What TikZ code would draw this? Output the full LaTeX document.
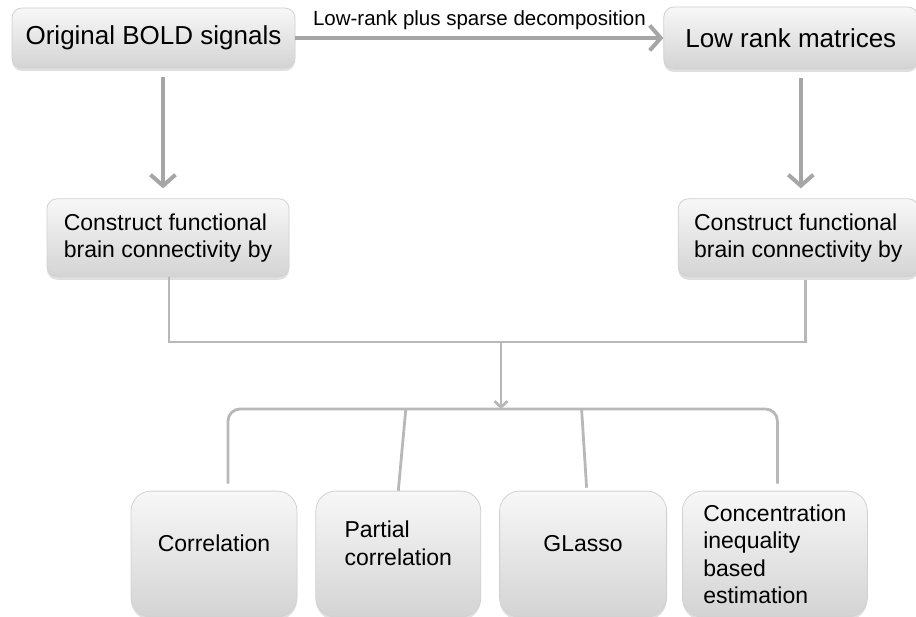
\documentclass[tikz,border=0pt]{standalone}
\usepackage{fontspec}
\setmainfont{Liberation Sans}
\usetikzlibrary{positioning, shadows, arrows.meta, calc}
\newcommand{\lowpad}{\rule[-22pt]{0pt}{22pt}}

\begin{document}
\begin{tikzpicture}[x=1pt, y=-1pt,
        box/.style = {draw=black!18, line width=0.8pt, rounded corners=10pt, top color=black!3, bottom color=black!17, drop shadow={shadow xshift=0pt, shadow yshift=-3pt, opacity=0.25}, inner sep=0pt},
        topbox/.style = {box, minimum height=60pt, font=\fontsize{26}{30}\selectfont},
        midbox/.style = {box, minimum height=78pt, align=left, font=\fontsize{23}{27}\selectfont},
        botbox/.style = {box, rounded corners=20pt, minimum width=166pt, minimum height=126pt, align=left, font=\fontsize{23}{27.5}\selectfont},
        bigarrow/.style = {draw=black!35, line width=4pt, -{Straight Barb[length=11pt,width=25pt]}},
        thinline/.style = {draw=black!28, line width=2.8pt},
        thinarrow/.style = {thinline, -{Straight Barb[length=6pt,width=13pt]}}]

            \useasboundingbox (0,0) rectangle (916,617);

            \node[topbox, minimum width=283pt] (orig) at (153.5,38) {Original BOLD signals};
            \node[topbox, minimum width=254pt, minimum height=62pt, right=368pt of orig] (lowrank) {Low rank matrices};
            \node[midbox, minimum width=242pt, below=130pt of orig, xshift=14.5pt] (leftcon) {Construct functional\\brain connectivity by};
            \node[midbox, minimum width=240pt, below=129pt of lowrank, xshift=7.5pt] (rightcon) {Construct functional\\brain connectivity by};
            \node[botbox, below=213.5pt of leftcon, xshift=46pt] (corr) {Correlation\lowpad};
            \node[botbox, minimum width=165pt, right=18pt of corr] (partial) {Partial\\correlation\lowpad};
            \node[botbox, minimum width=167pt, right=18pt of partial] (glasso) {GLasso\lowpad};
            \node[botbox, minimum width=185pt, right=15pt of glasso] (conc) {Concentration\\inequality\\based\\estimation};

            \coordinate (mrg) at (501,342);
            \coordinate (spl) at (501,409);

            \draw[bigarrow] (orig.east) -- node[midway, above=6pt, inner sep=0pt, font=\fontsize{20.5}{24}\selectfont]{Low-rank plus sparse decomposition} (orig.east -| lowrank.west);
            \draw[bigarrow] ([xshift=9.5pt,yshift=-9pt]orig.south) -- ([xshift=-5pt,yshift=10pt]leftcon.north);
            \draw[bigarrow] ([xshift=10pt,yshift=-9pt]lowrank.south) -- ([xshift=2.5pt,yshift=10pt]rightcon.north);

            \draw[thinline] ([xshift=1pt]leftcon.south) |- (mrg) -| ([xshift=7.5pt,yshift=-3pt]rightcon.south);
            \draw[thinarrow] (mrg) -- (spl);
            \draw[thinline, rounded corners=12pt] ([xshift=14pt,yshift=7pt]corr.north) |- (spl) -| ([xshift=2.5pt,yshift=7pt]conc.north);
            \draw[thinline] ($(partial.north |- spl)+(7.5,0)$) -- (partial.north);
            \draw[thinline] ($(glasso.north |- spl)+(-1.5,0)$) -- ([xshift=3.5pt,yshift=3pt]glasso.north);

            \end{tikzpicture}
\end{document}
